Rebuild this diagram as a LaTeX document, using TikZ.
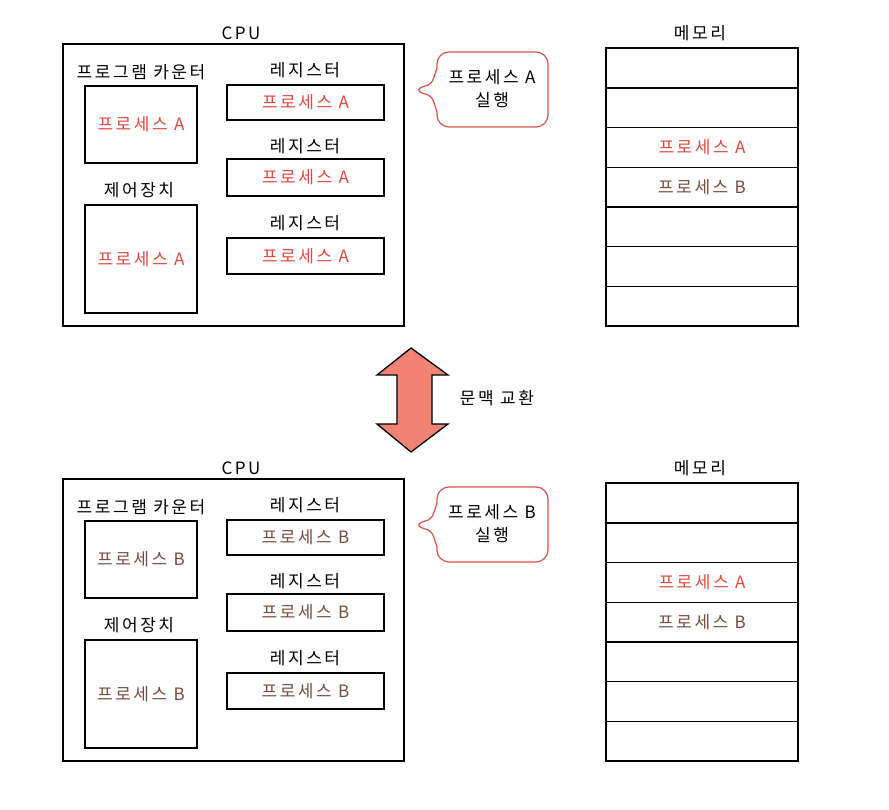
\documentclass[tikz,border=0pt]{standalone}
\usepackage{fontspec}
\setmainfont{Noto Sans CJK KR}[LetterSpace=15]
\definecolor{procA}{HTML}{E04A3F}
\definecolor{procB}{HTML}{7B4B3E}
\definecolor{callred}{HTML}{D9534A}
\definecolor{swapfill}{HTML}{F28374}
\tikzset{
  box/.style={draw=black, line width=1.5pt, inner sep=0pt, rectangle},
  cell/.style={inner sep=0pt, rectangle, minimum width=192pt, minimum height=39.7pt},
  divider/.style={draw=black, line width=1.5pt},
  lbl/.style={font=\fontsize{17}{19}\selectfont, text=black, inner sep=0pt},
  ptxt/.style={font=\fontsize{17}{19}\selectfont, inner sep=0pt},
  call/.style={draw=callred, line width=1.2pt, rounded corners=12pt},
}
\begin{document}
\begin{tikzpicture}[x=1pt, y=-1pt]
\useasboundingbox (0,0) rectangle (889,810);
\fill[white] (0,0) rectangle (889,810);
% top panel
\begin{scope}[name prefix=t-]
  \node[lbl] (cpulbl) at (241,33) {CPU};
  \node[box, minimum width=341pt, minimum height=282pt] (cpu) at (233.5,185) {};
  \node[lbl] (pclbl) at (141,72) {프로그램 카운터};
  \node[box, minimum width=112pt, minimum height=77pt] (pc) at (141,124.5) {};
  \node[ptxt, text=procA] (pctxt) at (pc) {프로세스 A};
  \node[lbl] (culbl) at (139,190) {제어장치};
  \node[box, minimum width=112pt, minimum height=108pt] (cu) at (141,259) {};
  \node[ptxt, text=procA] (cutxt) at (cu) {프로세스 A};
  \node[lbl] (r1lbl) at (305,70) {레지스터};
  \node[box, minimum width=157pt, minimum height=35pt] (r1) at (305.5,102.5) {};
  \node[ptxt, text=procA] (r1txt) at (r1) {프로세스 A};
  \node[lbl] (r2lbl) at (305,146) {레지스터};
  \node[box, minimum width=157pt, minimum height=37pt] (r2) at (305.5,177.5) {};
  \node[ptxt, text=procA] (r2txt) at (r2) {프로세스 A};
  \node[lbl] (r3lbl) at (305,223) {레지스터};
  \node[box, minimum width=157pt, minimum height=36pt] (r3) at (305.5,256) {};
  \node[ptxt, text=procA] (r3txt) at (r3) {프로세스 A};
  \node[lbl] (memlbl) at (700,33) {메모리};
  \node[box, minimum width=192pt, minimum height=277.9pt] (mem) at (702,186.95) {};
  \foreach \i in {1,...,7}{
    \node[cell] (mem\i) at (702,{48+39.7*(\i-0.5)}) {};
  }
  \foreach \i in {1,...,6}{
    \draw[divider] (mem\i.south west) -- (mem\i.south east);
  }
  \node[ptxt, text=procA] (mA) at (mem3) {프로세스 A};
  \node[ptxt, text=procB] (mB) at (mem4) {프로세스 B};
  \draw[call] (437,68) -- (437,52) -- (548,52) -- (548,127) -- (437,127) -- (437,112);
  \draw[call] (437,68) .. controls (432,84) .. (412,90) .. controls (432,96) .. (437,112);
  \node[lbl, align=center] (calltxt) at (492,89) {프로세스 A\\[4pt]실행};
\end{scope}
% bottom panel
\begin{scope}[name prefix=b-, yshift=-435pt]
  \node[lbl] (cpulbl) at (241,33) {CPU};
  \node[box, minimum width=341pt, minimum height=282pt] (cpu) at (233.5,185) {};
  \node[lbl] (pclbl) at (141,72) {프로그램 카운터};
  \node[box, minimum width=112pt, minimum height=77pt] (pc) at (141,124.5) {};
  \node[ptxt, text=procB] (pctxt) at (pc) {프로세스 B};
  \node[lbl] (culbl) at (139,190) {제어장치};
  \node[box, minimum width=112pt, minimum height=108pt] (cu) at (141,259) {};
  \node[ptxt, text=procB] (cutxt) at (cu) {프로세스 B};
  \node[lbl] (r1lbl) at (305,70) {레지스터};
  \node[box, minimum width=157pt, minimum height=35pt] (r1) at (305.5,102.5) {};
  \node[ptxt, text=procB] (r1txt) at (r1) {프로세스 B};
  \node[lbl] (r2lbl) at (305,146) {레지스터};
  \node[box, minimum width=157pt, minimum height=37pt] (r2) at (305.5,177.5) {};
  \node[ptxt, text=procB] (r2txt) at (r2) {프로세스 B};
  \node[lbl] (r3lbl) at (305,223) {레지스터};
  \node[box, minimum width=157pt, minimum height=36pt] (r3) at (305.5,256) {};
  \node[ptxt, text=procB] (r3txt) at (r3) {프로세스 B};
  \node[lbl] (memlbl) at (700,33) {메모리};
  \node[box, minimum width=192pt, minimum height=277.9pt] (mem) at (702,186.95) {};
  \foreach \i in {1,...,7}{
    \node[cell] (mem\i) at (702,{48+39.7*(\i-0.5)}) {};
  }
  \foreach \i in {1,...,6}{
    \draw[divider] (mem\i.south west) -- (mem\i.south east);
  }
  \node[ptxt, text=procA] (mA) at (mem3) {프로세스 A};
  \node[ptxt, text=procB] (mB) at (mem4) {프로세스 B};
  \draw[call] (437,68) -- (437,52) -- (548,52) -- (548,127) -- (437,127) -- (437,112);
  \draw[call] (437,68) .. controls (432,84) .. (412,90) .. controls (432,96) .. (437,112);
  \node[lbl, align=center] (calltxt) at (492,89) {프로세스 B\\[4pt]실행};
\end{scope}
% context switch arrow
\draw[line width=1.3pt, fill=swapfill, line join=miter]
  (411,348) -- (448,375) -- (432,375) -- (432,424) -- (448,424) -- (411,452)
  -- (377,424) -- (397,424) -- (397,375) -- (377,375) -- cycle;
\node[lbl] (swaplbl) at (497,398) {문맥 교환};
\end{tikzpicture}
\end{document}
